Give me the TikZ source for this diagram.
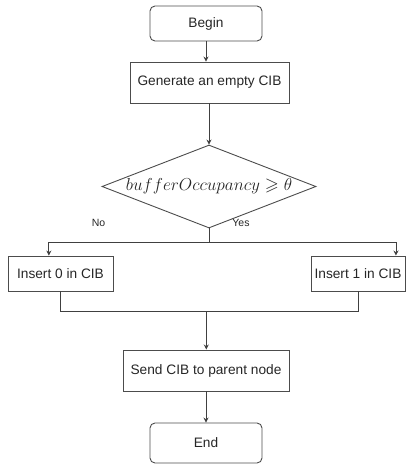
\documentclass[tikz,border=0pt]{standalone}
\usepackage{fontspec}
\setmainfont{Liberation Sans}
\usepackage{amssymb}
\usetikzlibrary{shapes.geometric,arrows.meta,calc}
\begin{document}
\begin{tikzpicture}[x=1pt,y=-1pt,
  every node/.style={text=black!85},
  box/.style={draw=black!70,line width=0.9pt,rectangle,inner sep=0pt,font=\fontsize{13.7}{16}\selectfont},
  rbox/.style={box,rounded corners=5pt},
  lbl/.style={font=\fontsize{10.5}{12}\selectfont,inner sep=0pt},
  conn/.style={draw=black!75,line width=0.9pt},
  arr/.style={conn,-{Stealth[length=5pt,width=5pt]}}]
\useasboundingbox (0,0) rectangle (406,464);
\node[rbox,minimum width=112pt,minimum height=35pt] (begin) at (206,23.5) {Begin};
\node[box,minimum width=159pt,minimum height=41pt] (gen) at (209.5,82.5) {Generate an empty CIB};
\node[shape=diamond,draw=black!70,line width=0.9pt,minimum width=214pt,minimum height=83pt,inner sep=0pt] (dec) at (209,186.5) {\makebox[0pt]{\fontsize{18}{20}\selectfont$bufferOccupancy\geqslant\theta$}};
\node[box,minimum width=105pt,minimum height=35pt] (ins0) at (60.5,273.5) {Insert 0 in CIB};
\node[box,minimum width=94pt,minimum height=35pt] (ins1) at (358,273.5) {Insert 1 in CIB};
\node[box,minimum width=166pt,minimum height=41pt] (send) at (206,370.5) {Send CIB to parent node};
\node[rbox,minimum width=112pt,minimum height=40pt] (end) at (206,443) {End};
\node[lbl] (no) at (98.5,222.5) {No};
\node[lbl] (yes) at (241,222.5) {Yes};
\coordinate (split) at (209,242.3);
\coordinate (join) at (206.3,311.5);
\draw[arr] (begin.south) -- (begin.south |- gen.north);
\draw[arr] (gen.south -| dec.north) -- (dec.north);
\draw[conn] (dec.south) -- (split);
\draw[arr] (split) -| ($(ins0.north west)!0.39!(ins0.north east)$);
\draw[arr] (split) -| ($(ins1.north west)!0.9!(ins1.north east)$);
\draw[conn] (ins0.south) |- (join) -| (ins1.south);
\draw[arr] (join) -- (join |- send.north);
\draw[arr] (send.south) -- (end.north);
\end{tikzpicture}
\end{document}
